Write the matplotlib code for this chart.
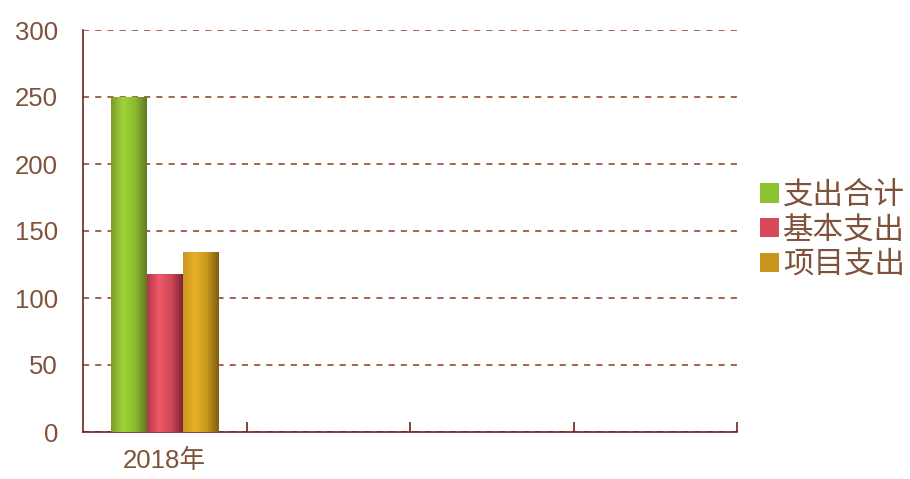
import matplotlib
matplotlib.use('Agg')
import matplotlib.pyplot as plt
import numpy as np
from matplotlib.colors import LinearSegmentedColormap
from matplotlib.patches import Patch

categories = ['2018年', '', '', '']
series = ['支出合计', '基本支出', '项目支出']
values = [[250], [118], [134]]
shades = [
    ['#7a9a2a', '#9fd43a', '#8cbc30', '#5f7a22'],
    ['#b03848', '#f05a6a', '#d04858', '#7e2434'],
    ['#c89420', '#e8b028', '#c8961e', '#7e5c12'],
]
legend_colors = ['#8cc232', '#d84a5a', '#c8961e']

text_color = '#80523a'
axis_color = '#6e2222'


def main():
    plt.rcParams['font.family'] = ['Liberation Sans', 'Noto Sans CJK SC', 'DejaVu Sans']
    fig = plt.figure(figsize=(9.10, 4.79), dpi=100)
    ax = fig.add_axes([83 / 910, 47 / 479, 654 / 910, 402 / 479])

    n_cat = len(categories)
    width = 0.22
    grad = np.linspace(0, 1, 256).reshape(1, -1)
    for i, (name, vals) in enumerate(zip(series, values)):
        cmap = LinearSegmentedColormap.from_list(name, shades[i])
        for j, v in enumerate(vals):
            x0 = j + 0.5 + (i - 1.5) * width
            bars = ax.bar(x0, v, width, align='edge', color='none', edgecolor='none', zorder=3)
            im = ax.imshow(grad, cmap=cmap, aspect='auto', extent=[x0, x0 + width, 0, v],
                           zorder=3, interpolation='bicubic')
            im.set_clip_path(bars[0])

    ax.set_xlim(0, n_cat)
    ax.set_ylim(0, 300)
    ax.set_yticks(np.arange(0, 301, 50))
    ax.yaxis.grid(True, linestyle=(0, (4, 4)), color='#8b3a1a', linewidth=1.1)
    ax.set_axisbelow(True)

    ax.set_xticks(np.arange(n_cat) + 0.5)
    ax.set_xticklabels(categories)
    ax.set_xticks(np.arange(1, n_cat + 1), minor=True)
    ax.tick_params(axis='x', which='major', length=0, pad=12, labelsize=18.5, colors=text_color)
    ax.tick_params(axis='x', which='minor', direction='in', length=7, color=axis_color, width=1.2)
    ax.tick_params(axis='y', length=0, pad=18, labelsize=18.5, colors=text_color)

    for s in ['top', 'right']:
        ax.spines[s].set_visible(False)
    for s in ['left', 'bottom']:
        ax.spines[s].set_color(axis_color)
        ax.spines[s].set_linewidth(1.2)

    handles = [Patch(facecolor=c, edgecolor='none') for c in legend_colors]
    leg = fig.legend(handles, series, loc='center left', bbox_to_anchor=(745 / 910, 1 - 230 / 479),
                     frameon=False, prop={'family': ['Noto Sans CJK SC'], 'size': 22},
                     handlelength=0.62, handleheight=0.6,
                     handletextpad=0.12, labelspacing=0.12, borderpad=0)
    for t in leg.get_texts():
        t.set_color(text_color)

    fig.savefig('out.png', dpi=100)


if __name__ == '__main__':
    main()
